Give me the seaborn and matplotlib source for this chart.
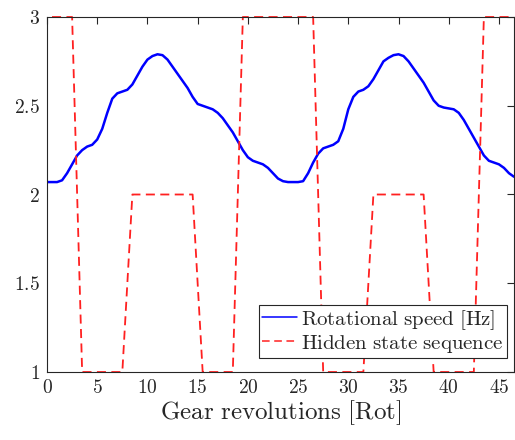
import numpy as np
import pandas as pd
import seaborn as sns
import matplotlib
matplotlib.use("Agg")
import matplotlib.pyplot as plt

# Rotational speed [Hz] vs gear revolutions
speed_x = [0, 0.5, 1, 1.5, 2, 2.5, 3, 3.5, 4, 4.5, 5, 5.5, 6, 6.5, 7, 7.5, 8, 8.5, 9, 9.5,
           10, 10.5, 11, 11.5, 12, 12.5, 13, 13.5, 14, 14.5, 15, 15.5, 16, 16.5, 17, 17.5,
           18, 18.5, 19, 19.5, 20, 20.5, 21, 21.5, 22, 22.5, 23, 23.5, 24, 24.5, 25, 25.5,
           26, 26.5, 27, 27.5, 28, 28.5, 29, 29.5, 30, 30.5, 31, 31.5, 32, 32.5, 33, 33.5,
           34, 34.5, 35, 35.5, 36, 36.5, 37, 37.5, 38, 38.5, 39, 39.5, 40, 40.5, 41, 41.5,
           42, 42.5, 43, 43.5, 44, 44.5, 45, 45.5, 46, 46.5]
speed_y = [2.07, 2.07, 2.07, 2.08, 2.12, 2.17, 2.22, 2.25, 2.27, 2.28, 2.31, 2.37, 2.46, 2.54,
           2.57, 2.58, 2.59, 2.62, 2.67, 2.72, 2.76, 2.78, 2.79, 2.785, 2.76, 2.72, 2.68, 2.64,
           2.60, 2.55, 2.51, 2.50, 2.49, 2.48, 2.46, 2.43, 2.39, 2.35, 2.30, 2.25, 2.21, 2.19,
           2.18, 2.17, 2.15, 2.12, 2.09, 2.075, 2.07, 2.07, 2.07, 2.075, 2.12, 2.18, 2.23, 2.26,
           2.27, 2.28, 2.30, 2.37, 2.48, 2.55, 2.58, 2.59, 2.61, 2.65, 2.70, 2.75, 2.77, 2.785,
           2.79, 2.78, 2.75, 2.71, 2.67, 2.63, 2.58, 2.53, 2.50, 2.49, 2.485, 2.48, 2.46, 2.42,
           2.37, 2.32, 2.27, 2.22, 2.19, 2.18, 2.17, 2.15, 2.12, 2.10]

# Hidden state per revolution (centre of each revolution)
state_x = [k + 0.5 for k in range(47)]
state_y = ([3] * 3 + [1] * 5 + [2] * 7 + [1] * 4 + [3] * 8 +
           [1] * 5 + [2] * 6 + [1] * 5 + [3] * 4)

x_ticks = [0, 5, 10, 15, 20, 25, 30, 35, 40, 45]
y_ticks = [1, 1.5, 2, 2.5, 3]
x_label = "Gear revolutions [Rot]"
series_labels = ["Rotational speed [Hz]", "Hidden state sequence"]

sns.set_style("white")
plt.rcParams["mathtext.fontset"] = "cm"
plt.rcParams["font.family"] = ["DejaVu Serif"]

def tex(s):
    return r"$\mathrm{" + s.replace(" ", r"\ ") + "}$"

fig = plt.figure(figsize=(5.15, 4.4), dpi=100)
ax = fig.add_axes([47 / 515, 68 / 440, 467 / 515, 355 / 440])

df_speed = pd.DataFrame({"x": speed_x, "y": speed_y})
df_state = pd.DataFrame({"x": state_x, "y": state_y})

sns.lineplot(data=df_speed, x="x", y="y", ax=ax, color="#0000ff", linewidth=1.8,
             label=tex(series_labels[0]), estimator=None, sort=False)
sns.lineplot(data=df_state, x="x", y="y", ax=ax, color="#ff2020", linewidth=1.3,
             linestyle=(0, (5, 3)), label=tex(series_labels[1]), estimator=None,
             sort=False, clip_on=False)

ax.set_xlim(0, 46.5)
ax.set_ylim(1, 3)
ax.set_xticks(x_ticks)
ax.set_yticks(y_ticks)
ax.set_xticklabels([tex(f"{t:g}") for t in x_ticks])
ax.set_yticklabels([tex(f"{t:g}") for t in y_ticks])
ax.set_xlabel(tex(x_label), fontsize=18, color="#262626", labelpad=1)
ax.set_ylabel("")

for sp in ax.spines.values():
    sp.set_color("#262626")
    sp.set_linewidth(0.8)
ax.tick_params(axis="both", direction="in", length=5, width=0.8, colors="#262626",
               labelsize=14, top=True, right=True, pad=5)

leg = ax.legend(loc="lower right", bbox_to_anchor=(0.985, 0.04), fontsize=15,
                frameon=True, fancybox=False, edgecolor="#262626", framealpha=1,
                handlelength=1.7, handletextpad=0.2, borderpad=0.15, labelspacing=0.05,
                borderaxespad=0.0)
leg.get_frame().set_linewidth(0.8)
for h in leg.get_lines():
    h.set_linewidth(1.1)

fig.savefig("out.png", dpi=100)
